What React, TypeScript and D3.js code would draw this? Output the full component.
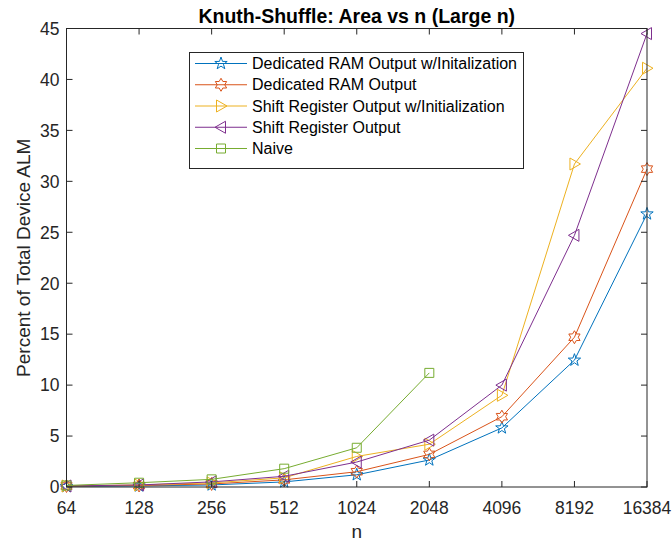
import React from "react";
import * as d3 from "d3";

const nValues = [64, 128, 256, 512, 1024, 2048, 4096, 8192, 16384];
const yTicks = [0, 5, 10, 15, 20, 25, 30, 35, 40, 45];

const dedicatedRamInit = [0.05, 0.1, 0.2, 0.5, 1.2, 2.65, 5.8, 12.45, 26.8];
const dedicatedRam = [0.1, 0.15, 0.3, 0.7, 1.5, 3.2, 6.9, 14.7, 31.2];
const shiftRegInit = [0.1, 0.2, 0.4, 0.9, 3.0, 4.2, 9.0, 31.7, 41.1];
const shiftReg = [0.1, 0.2, 0.5, 1.05, 2.45, 4.6, 10.0, 24.7, 44.5];
const naive = [0.15, 0.42, 0.75, 1.8, 3.85, 11.2];

const seriesNames = [
  "Dedicated RAM Output w/Initalization",
  "Dedicated RAM Output",
  "Shift Register Output w/Initialization",
  "Shift Register Output",
  "Naive",
];
const seriesColors = ["#0072BD", "#D95319", "#EDB120", "#7E2F8E", "#77AC30"];
const seriesMarkers = ["pentagram", "hexagram", "right", "left", "square"];
const seriesValues = [dedicatedRamInit, dedicatedRam, shiftRegInit, shiftReg, naive];

const W = 672;
const H = 542;
const M = { left: 66.5, right: 647, top: 28.5, bottom: 487 };
const FONT = "'Liberation Sans', Arial, Helvetica, sans-serif";

function starPath(points: number, outer: number, inner: number, rot = -Math.PI / 2) {
  const pts: [number, number][] = [];
  for (let i = 0; i < points * 2; i++) {
    const r = i % 2 === 0 ? outer : inner;
    const a = rot + (i * Math.PI) / points;
    pts.push([r * Math.cos(a), r * Math.sin(a)]);
  }
  return "M" + pts.map((p) => p[0].toFixed(2) + "," + p[1].toFixed(2)).join("L") + "Z";
}

function markerPath(kind: string): string {
  switch (kind) {
    case "pentagram":
      return starPath(5, 6.5, 2.6);
    case "hexagram":
      return starPath(6, 6.5, 3.75);
    case "right":
      return "M-4.5,-6L6,0L-4.5,6Z";
    case "left":
      return "M4.5,-6L-6,0L4.5,6Z";
    case "square":
      return "M-4.5,-4.5L4.5,-4.5L4.5,4.5L-4.5,4.5Z";
    default:
      return "";
  }
}

export default function App() {
  const x = d3.scaleLog().base(2).domain([64, 16384]).range([M.left, M.right]);
  const y = d3.scaleLinear().domain([0, 45]).range([M.bottom, M.top]);
  const line = d3
    .line<[number, number]>()
    .x((d) => x(d[0]))
    .y((d) => y(d[1]));

  const axisColor = "#262626";
  const tickLen = 6;

  const legendX = 189.5;
  const legendY = 52.5;
  const legendW = 334;
  const legendH = 116;
  const rowH = 21.25;

  return (
    <svg width={W} height={H} style={{ position: "absolute", left: 0, top: 0, background: "#fff" }} fontFamily={FONT}>
      <rect x={0} y={0} width={W} height={H} fill="#fff" />
      {/* title */}
      <text x={(M.left + M.right) / 2} y={22.5} textAnchor="middle" fontSize={19.5} fontWeight="bold" fill="#000">
        Knuth-Shuffle: Area vs n (Large n)
      </text>

      {/* series */}
      {seriesValues.map((vals, si) => {
        const pts = vals.map((v, i) => [nValues[i], v] as [number, number]);
        return (
          <g key={si}>
            <path d={line(pts) || ""} fill="none" stroke={seriesColors[si]} strokeWidth={1} />
            {pts.map((p, i) => (
              <path
                key={i}
                d={markerPath(seriesMarkers[si])}
                transform={`translate(${x(p[0])},${y(p[1])})`}
                fill="none"
                stroke={seriesColors[si]}
                strokeWidth={1}
              />
            ))}
          </g>
        );
      })}

      {/* axes box */}
      <rect
        x={M.left}
        y={M.top}
        width={M.right - M.left}
        height={M.bottom - M.top}
        fill="none"
        stroke={axisColor}
        strokeWidth={1}
      />
      {/* x ticks */}
      {nValues.map((n) => (
        <g key={"x" + n}>
          <line x1={x(n)} x2={x(n)} y1={M.bottom} y2={M.bottom - tickLen} stroke={axisColor} />
          <line x1={x(n)} x2={x(n)} y1={M.top} y2={M.top + tickLen} stroke={axisColor} />
          <text x={x(n)} y={513.5} textAnchor="middle" fontSize={17.5} fill={axisColor}>
            {n}
          </text>
        </g>
      ))}
      {/* y ticks */}
      {yTicks.map((t) => (
        <g key={"y" + t}>
          <line x1={M.left} x2={M.left + tickLen} y1={y(t)} y2={y(t)} stroke={axisColor} />
          <line x1={M.right} x2={M.right - tickLen} y1={y(t)} y2={y(t)} stroke={axisColor} />
          <text x={M.left - 7} y={y(t) + 6.3} textAnchor="end" fontSize={17.5} fill={axisColor}>
            {t}
          </text>
        </g>
      ))}
      {/* axis labels */}
      <text x={(M.left + M.right) / 2} y={538} textAnchor="middle" fontSize={19} fill={axisColor}>
        n
      </text>
      <text
        transform={`translate(30,${(M.top + M.bottom) / 2}) rotate(-90)`}
        textAnchor="middle"
        fontSize={19}
        fill={axisColor}
      >
        Percent of Total Device ALM
      </text>

      {/* legend */}
      <rect x={legendX} y={legendY} width={legendW} height={legendH} fill="#fff" stroke={axisColor} strokeWidth={1} />
      {seriesNames.map((name, i) => {
        const cy = legendY + 11 + i * rowH;
        return (
          <g key={name}>
            <line x1={195} x2={247} y1={cy} y2={cy} stroke={seriesColors[i]} strokeWidth={1} />
            <path
              d={markerPath(seriesMarkers[i])}
              transform={`translate(221,${cy})`}
              fill="none"
              stroke={seriesColors[i]}
              strokeWidth={1}
            />
            <text x={252} y={cy + 5.7} fontSize={16} fill="#000">
              {name}
            </text>
          </g>
        );
      })}
    </svg>
  );
}
